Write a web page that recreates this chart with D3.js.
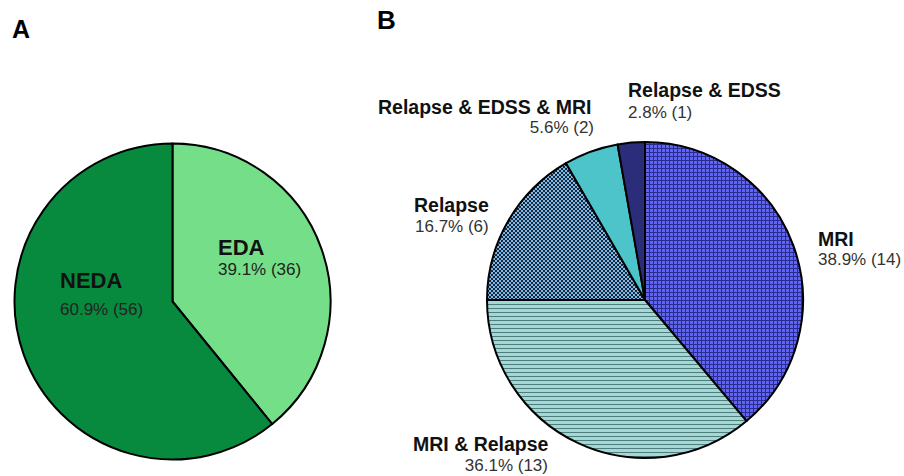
<!DOCTYPE html>
<html>
<head>
<meta charset="utf-8">
<script src="https://cdn.jsdelivr.net/npm/d3@7"></script>
<style>
  body { margin: 0; background: #fff; }
  svg text { font-family: "Liberation Sans", Arial, sans-serif; }
</style>
</head>
<body>
<div id="chart"></div>
<script>
// panel A data (clockwise from 12 o'clock)
const groupsA = ["EDA", "NEDA"];
const countsA = [36, 56];

// panel B data (clockwise from 12 o'clock)
const groupsB = ["MRI", "MRI & Relapse", "Relapse", "Relapse & EDSS & MRI", "Relapse & EDSS"];
const countsB = [14, 13, 6, 2, 1];

(function () {
    const width = 904, height = 476;

    const svg = d3.select("#chart").append("svg")
        .attr("width", width).attr("height", height);

    const defs = svg.append("defs");

    // grid pattern for MRI
    const pGrid = defs.append("pattern").attr("id", "grid")
        .attr("patternUnits", "userSpaceOnUse").attr("width", 4).attr("height", 4);
    pGrid.append("rect").attr("width", 4).attr("height", 4).attr("fill", "#5d63fb");
    pGrid.append("rect").attr("width", 4).attr("height", 1).attr("fill", "#2a2d88");
    pGrid.append("rect").attr("width", 1).attr("height", 4).attr("fill", "#2a2d88");

    // horizontal lines for MRI & Relapse
    const pLines = defs.append("pattern").attr("id", "hlines")
        .attr("patternUnits", "userSpaceOnUse").attr("width", 8).attr("height", 4);
    pLines.append("rect").attr("width", 8).attr("height", 4).attr("fill", "#a4d8d5");
    pLines.append("rect").attr("width", 8).attr("height", 1).attr("fill", "#4f7c7c");

    // checkerboard for Relapse
    const pCheck = defs.append("pattern").attr("id", "check")
        .attr("patternUnits", "userSpaceOnUse").attr("width", 4).attr("height", 4);
    pCheck.append("rect").attr("width", 4).attr("height", 4).attr("fill", "#7abbec");
    pCheck.append("rect").attr("width", 2).attr("height", 2).attr("fill", "#1c2638");
    pCheck.append("rect").attr("x", 2).attr("y", 2).attr("width", 2).attr("height", 2).attr("fill", "#1c2638");

    const fillsA = ["#74df88", "#088a3e"];
    const fillsB = ["url(#grid)", "url(#hlines)", "url(#check)", "#4cc4ca", "#2b2d7a"];

    const pct = d3.format(".1f");
    const pie = d3.pie().sort(null).value(d => d.n);

    // ---- panel A ----
    const dataA = groupsA.map((g, i) => ({ g: g, n: countsA[i], fill: fillsA[i] }));
    const totalA = d3.sum(countsA);
    const arcA = d3.arc().innerRadius(0).outerRadius(158);

    const gA = svg.append("g").attr("transform", "translate(172.5,301.5)");
    gA.selectAll("path").data(pie(dataA)).join("path")
        .attr("d", arcA)
        .attr("fill", d => d.data.fill)
        .attr("stroke", "#000").attr("stroke-width", 2)
        .attr("stroke-linejoin", "round");

    // label layout for A: [x, y bold, y pct]
    const posA = { "EDA": [218, 255, 275], "NEDA": [60, 288, 315] };
    dataA.forEach(d => {
        const p = posA[d.g];
        svg.append("text").attr("x", p[0]).attr("y", p[1])
            .attr("font-size", 22).attr("font-weight", "bold").attr("fill", "#111")
            .text(d.g);
        svg.append("text").attr("x", p[0]).attr("y", p[2])
            .attr("font-size", 17).attr("fill", "#222")
            .text(pct(d.n / totalA * 100) + "% (" + d.n + ")");
    });

    // ---- panel B ----
    const dataB = groupsB.map((g, i) => ({ g: g, n: countsB[i], fill: fillsB[i] }));
    const totalB = d3.sum(countsB);
    const arcB = d3.arc().innerRadius(0).outerRadius(158);

    const gB = svg.append("g").attr("transform", "translate(645,300)");
    gB.selectAll("path").data(pie(dataB)).join("path")
        .attr("d", arcB)
        .attr("fill", d => d.data.fill)
        .attr("stroke", "#000").attr("stroke-width", 2)
        .attr("stroke-linejoin", "round");

    // label layout for B: [x bold, y bold, x pct, y pct, pct anchor]
    const posB = {
        "MRI": [818, 246, 818, 265, "start"],
        "MRI & Relapse": [413, 451, 548, 471, "end"],
        "Relapse": [414, 212, 415, 232, "start"],
        "Relapse & EDSS & MRI": [378, 114, 594, 133, "end"],
        "Relapse & EDSS": [628, 97, 628, 118, "start"]
    };
    dataB.forEach(d => {
        const p = posB[d.g];
        svg.append("text").attr("x", p[0]).attr("y", p[1])
            .attr("font-size", 19.5).attr("font-weight", "bold").attr("fill", "#111")
            .text(d.g);
        svg.append("text").attr("x", p[2]).attr("y", p[3])
            .attr("text-anchor", p[4])
            .attr("font-size", 17).attr("fill", "#333")
            .text(pct(d.n / totalB * 100) + "% (" + d.n + ")");
    });

    // panel letters
    svg.append("text").attr("x", 12).attr("y", 38)
        .attr("font-size", 25).attr("font-weight", "bold").text("A");
    svg.append("text").attr("x", 377).attr("y", 29)
        .attr("font-size", 26).attr("font-weight", "bold").text("B");
})();
</script>
</body>
</html>
